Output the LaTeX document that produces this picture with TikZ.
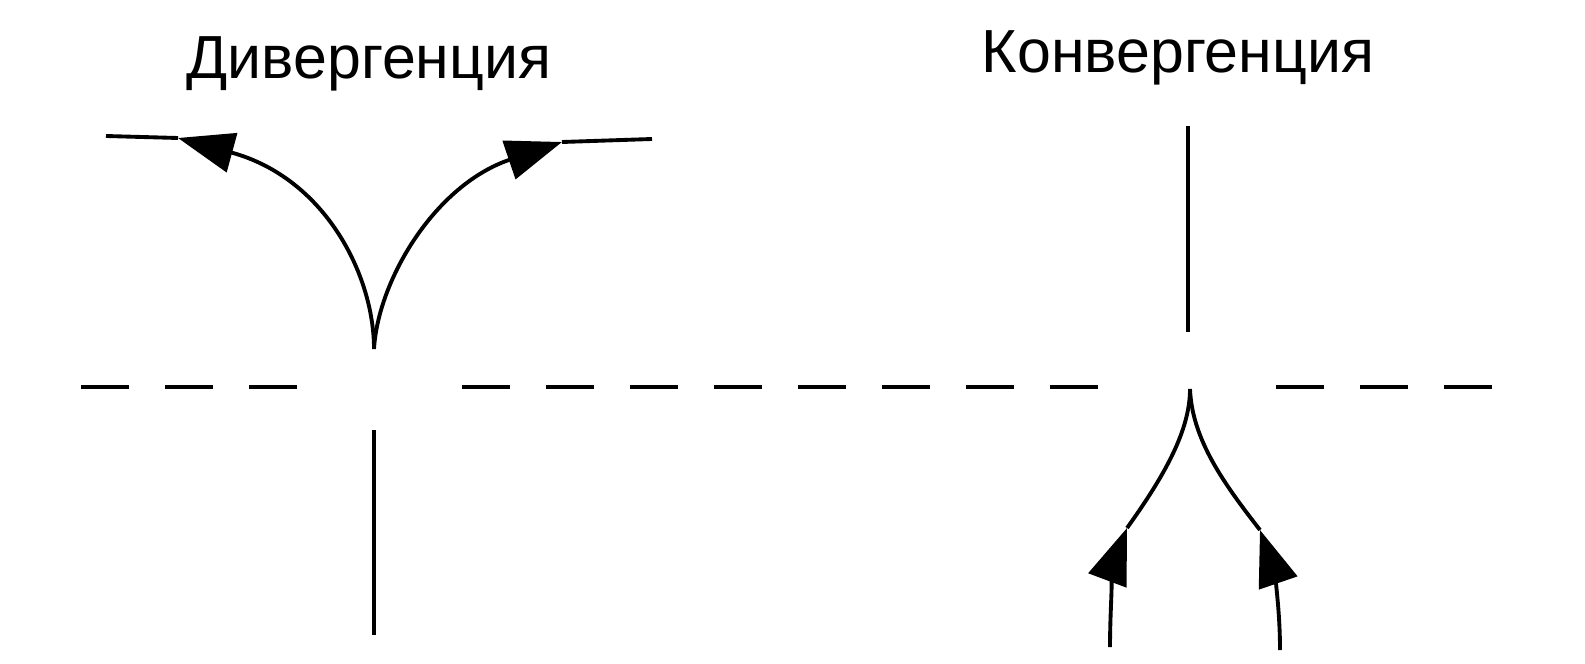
\documentclass[tikz,border=0pt]{standalone}
\usepackage{fontspec}
\setmainfont{Liberation Sans}
\usetikzlibrary{arrows.meta}

\begin{document}
\begin{tikzpicture}[x=0.01cm, y=-0.01cm,
    flow/.style={line width=1.1pt, black},
    tip/.style={-{Triangle[length=0.56cm, width=0.4cm]}},
    axis/.style={line width=1pt, dash pattern=on 0.48cm off 0.36cm},
    ttl/.style={font=\fontsize{17.3}{20}\selectfont, inner sep=0pt, anchor=base}]

    \useasboundingbox (0,0) rectangle (1585,664);

    % titles
    \node[ttl] (div)  at (369,79)  {Дивергенция};
    \node[ttl] (conv) at (1178,73) {Конвергенция};

    % dashed axis
    \coordinate (ax1) at (81,387);
    \coordinate (ax2) at (300,387);
    \coordinate (ax3) at (462,387);
    \coordinate (ax4) at (1110,387);
    \coordinate (ax5) at (1276,387);
    \coordinate (ax6) at (1508,387);
    \draw[axis] (ax1) -- (ax2);
    \draw[axis] (ax3) -- (ax4);
    \draw[axis] (ax5) -- (ax6);

    % divergence
    \coordinate (dA)  at (374,349);
    \coordinate (dB)  at (374,430);
    \coordinate (dC)  at (374,635);
    \coordinate (dLt) at (178,138);
    \coordinate (dLe) at (106,136);
    \coordinate (dRt) at (562,142);
    \coordinate (dRe) at (652,139);

    \draw[flow] (dB) -- (dC);
    \draw[flow, tip] (dA) .. controls (374,275) and (325,178) .. (dLt);
    \draw[flow] (dLt) -- (dLe);
    \draw[flow, tip] (dA) .. controls (378,280) and (435,185) .. (dRt);
    \draw[flow] (dRt) -- (dRe);

    % convergence
    \coordinate (cT)  at (1188,126);
    \coordinate (cB)  at (1188,332);
    \coordinate (cA)  at (1190,389);
    \coordinate (cLs) at (1110,647);
    \coordinate (cLt) at (1127,528);
    \coordinate (cRs) at (1280,650);
    \coordinate (cRt) at (1260,530);

    \draw[flow] (cT) -- (cB);
    \draw[flow, tip] (cLs) .. controls (1110,600) and (1115,560) .. (cLt);
    \draw[flow] (cLt) .. controls (1165,475) and (1190,430) .. (cA);
    \draw[flow, tip] (cRs) .. controls (1280,600) and (1272,565) .. (cRt);
    \draw[flow] (cRt) .. controls (1225,485) and (1192,440) .. (cA);
\end{tikzpicture}
\end{document}
